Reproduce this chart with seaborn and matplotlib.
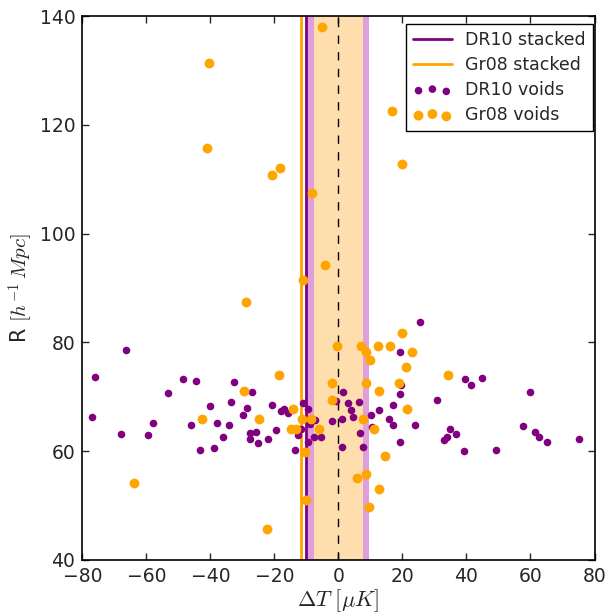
import numpy as np
import pandas as pd
import matplotlib
matplotlib.use("Agg")
import matplotlib.pyplot as plt
import seaborn as sns

# DR10 void sample: temperature shift (muK) and radius (h^-1 Mpc)
dr10_dT = [-66.5, -76.0, -77.1, -68.0, -59.5, -57.9, -53.1, -48.7, -44.4, -46.2,
           -40.2, -43.1, -38.8, -38.0, -36.0, -34.1, -33.6, -32.7, -27.1, -28.5,
           -29.8, -27.7, -25.8, -27.7, -25.1,
           25.5, 19.2, 19.5, 19.1, 17.0, 12.6, 15.7, 17.0, 23.9, 19.3,
           1.4, 3.1, 6.4, 3.9, 4.4, 1.2, -2.0, -0.8, 10.1, 10.4,
           6.8, 7.7, 1.1, -11.1, -9.4, -7.25, -9.0, -7.7, -5.6, -9.4,
           -11.6, -12.6, -13.6, -20.6, -18.0, -16.9, -15.9, -19.4, -21.9,
           39.4, 41.5, 44.9, 30.8, 59.8, 34.75, 33.8, 33.1, 36.8, 39.3,
           49.2, 57.75, 61.4, 62.7, 65.2, 75.2]
dr10_R = [78.6, 73.7, 66.3, 63.1, 62.9, 65.2, 70.7, 73.2, 72.8, 64.8,
          68.3, 60.1, 60.6, 65.1, 62.6, 64.7, 69.1, 72.7, 70.9, 68.0,
          66.7, 63.4, 63.5, 62.2, 61.5,
          83.7, 78.2, 72.2, 70.4, 68.5, 67.6, 65.9, 64.8, 64.8, 61.7,
          70.8, 68.8, 69.1, 67.5, 66.3, 65.9, 65.6, 69.2, 66.6, 64.5,
          63.3, 60.8, 60.8, 68.9, 67.7, 65.7, 65.0, 62.6, 62.5, 61.7,
          64.0, 62.9, 60.1, 68.4, 67.3, 67.7, 67.0, 63.9, 62.3,
          73.2, 72.2, 73.5, 69.3, 70.9, 64.0, 62.6, 62.0, 63.1, 60.0,
          60.2, 64.6, 63.5, 62.6, 61.7, 62.2]

# Gr08 void sample
gr08_dT = [-63.8, -42.75, -29.4, -24.8, -0.6, 6.9, 12.3, 16.1, 19.9, 8.7,
           9.8, 22.9, 21.0, -18.5, -2.1, 8.7, 18.8, 12.6, -1.9, -14.1,
           21.4, -11.3, -8.6, 7.6, -14.7, -13.4, -6.0, 11.1, -10.5, 14.4,
           8.7, 5.9, 12.75, -10.25, 9.5, -22.3, 34.3, -5.25, -40.5, -41.1,
           -18.3, -20.8, -8.3, 16.7, 19.9, -4.3, -11.0, -28.8]
gr08_R = [54.2, 65.9, 71.0, 65.9, 79.4, 79.4, 79.4, 79.4, 81.8, 78.2,
          76.7, 78.2, 75.5, 74.0, 72.6, 72.6, 72.6, 71.0, 69.4, 67.7,
          67.7, 65.9, 65.9, 65.9, 64.0, 64.0, 64.0, 64.0, 59.8, 59.0,
          55.8, 55.0, 53.1, 51.0, 49.75, 45.6, 74.0, 138.0, 131.4, 115.8,
          112.1, 110.8, 107.5, 122.5, 112.75, 94.2, 91.4, 87.4]

# Stacked temperature and 1-sigma null ranges
dr10_stacked = -10.0
gr08_stacked = -11.6
dr10_sigma = 9.7
gr08_sigma = 7.7

purple = "#800080"
orange = "#FFA500"

sns.set_style("ticks")
plt.rcParams["font.family"] = ["DejaVu Sans"]
plt.rcParams["mathtext.fontset"] = "cm"

fig = plt.figure(figsize=(6.10, 6.14), dpi=100)
ax = fig.add_axes([0.135, 0.0884, 0.8396, 0.8852])

dr10 = pd.DataFrame({"dT": dr10_dT, "R": dr10_R})
gr08 = pd.DataFrame({"dT": gr08_dT, "R": gr08_R})

ax.axvspan(-dr10_sigma, dr10_sigma, color="#DDA0DD", lw=0, zorder=0)
ax.axvspan(-gr08_sigma, gr08_sigma, color="#FFDEAD", lw=0, zorder=0.5)
ax.axvline(0, color="black", ls="--", lw=1, dashes=(6, 6), zorder=1)

ax.axvline(dr10_stacked, color=purple, lw=2, zorder=1.5, label="DR10 stacked")
ax.axvline(gr08_stacked, color=orange, lw=2, zorder=1.5, label="Gr08 stacked")

sns.scatterplot(data=dr10, x="dT", y="R", color=purple, s=30, linewidth=0,
                ax=ax, zorder=2, label="DR10 voids", legend=False)
sns.scatterplot(data=gr08, x="dT", y="R", color=orange, s=50, linewidth=0,
                ax=ax, zorder=3, label="Gr08 voids", legend=False)

ax.set_xlim(-80, 80)
ax.set_ylim(40, 140)
ax.set_xticks(np.arange(-80, 81, 20))
ax.set_yticks(np.arange(40, 141, 20))
ax.tick_params(direction="in", length=5, width=1, labelsize=13.5,
               top=True, right=True, pad=5)
for sp in ax.spines.values():
    sp.set_linewidth(1.2)
    sp.set_color("black")

ax.set_xlabel(r"$\Delta T\ [\mu K]$", fontsize=16, labelpad=1)
ax.set_ylabel(r"R $[h^{-1}\,Mpc]$", fontsize=15, labelpad=3)

leg = ax.legend(loc="upper right", bbox_to_anchor=(0.997, 0.985),
                borderaxespad=0, fontsize=12.5, scatterpoints=3,
                scatteryoffsets=[0.375, 0.5, 0.3125], fancybox=False,
                framealpha=1, edgecolor="black", labelspacing=0.4,
                handlelength=2.2)
leg.get_frame().set_linewidth(1.0)

fig.savefig("out.png", dpi=100)
